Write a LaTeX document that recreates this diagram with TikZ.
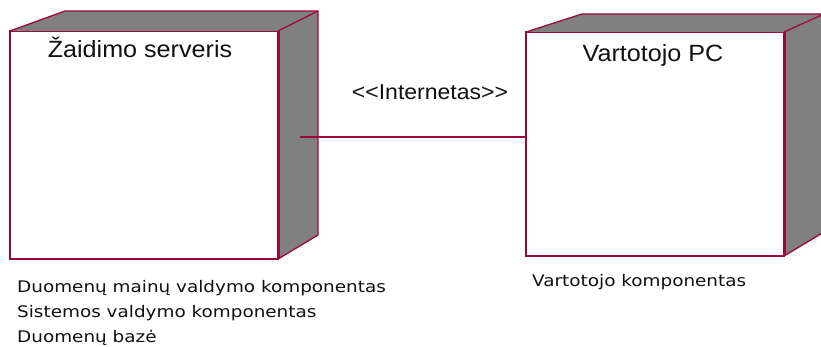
\documentclass[tikz,border=0pt]{standalone}
\usepackage{fontspec}
\setmainfont{Liberation Sans}
\newfontfamily\headfont[FakeStretch=1.07]{Liberation Sans}
\newfontfamily\notefont[FakeStretch=1.15]{DejaVu Sans}
\usetikzlibrary{calc}
\definecolor{rim}{HTML}{9B0A3C}
\definecolor{shade}{HTML}{808080}
\definecolor{ink}{HTML}{111111}

\begin{document}
\begin{tikzpicture}[x=1pt,y=-1pt,
  front/.style={draw=rim, line width=1.3pt, fill=white, inner sep=0pt, outer sep=0pt},
  face/.style={fill=shade},
  edge/.style={draw=rim, line width=1.3pt, line join=miter},
  thickedge/.style={draw=rim, line width=3pt},
  link/.style={draw=rim, line width=1.4pt},
  title/.style={font=\headfont\fontsize{23.5}{28}\selectfont, text=ink, inner sep=0pt},
  stereo/.style={font=\headfont\fontsize{21.5}{26}\selectfont, text=ink, inner sep=0pt},
  note/.style={font=\notefont\fontsize{16}{25}\selectfont, text=ink, inner sep=0pt, align=left}]
\useasboundingbox (0,0) rectangle (821,347);
\fill[white] (0,0) rectangle (821,347);

% game server node
\node[front, minimum width=268pt, minimum height=228pt] (srv) at (144,145) {};
\path[face] (srv.north west) -- ++(55,-20) -- ($(srv.north east)+(40,-20)$)
  -- ($(srv.south east)+(40,-24)$) -- (srv.south east) -- (srv.north east) -- cycle;
\path[edge] (srv.north west) -- ++(55,-20) -- ($(srv.north east)+(40,-20)$)
  -- ($(srv.south east)+(40,-24)$) -- (srv.south east);
\path[edge] (srv.north east) -- ++(40,-20);
\path[thickedge] (srv.north east) -- (srv.south east);

% user PC node
\node[front, minimum width=258pt, minimum height=224pt] (pc) at (655,144) {};
\path[face] (pc.north west) -- ++(56,-18) -- ($(pc.north east)+(40,-18)$)
  -- ($(pc.south east)+(40,-24)$) -- (pc.south east) -- (pc.north east) -- cycle;
\path[edge] (pc.north west) -- ++(56,-18) -- ($(pc.north east)+(40,-18)$)
  -- ($(pc.south east)+(40,-24)$) -- (pc.south east);
\path[edge] (pc.north east) -- ++(40,-18);
\path[thickedge] (pc.north east) -- (pc.south east);

% node names
\node[title, anchor=base] (srvname) at (140,58) {Žaidimo serveris};
\node[title, anchor=base] (pcname) at (653,62) {Vartotojo PC};

% network link
\coordinate (tap) at ($(srv.east)+(22,-8)$);
\path[link] (tap) -- (tap -| pc.west);
\node[stereo, anchor=base] (inet) at (430,100) {\textless\textless Internetas\textgreater\textgreater};

% deployed components (base anchor sits on the last line)
\node[note, anchor=base west] (srvparts) at (17,342)
  {Duomenų mainų valdymo komponentas\\Sistemos valdymo komponentas\\Duomenų bazė};
\node[note, anchor=base west] (pcparts) at (532,286) {Vartotojo komponentas};
\end{tikzpicture}
\end{document}
